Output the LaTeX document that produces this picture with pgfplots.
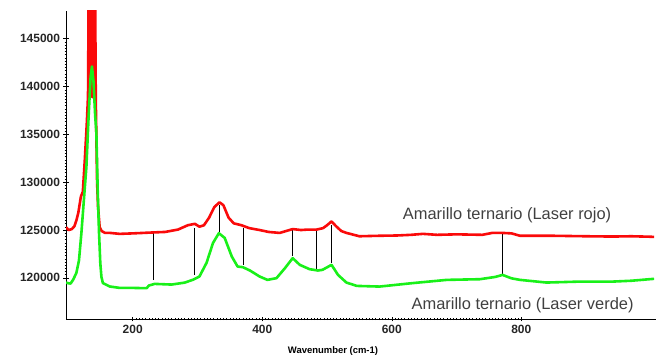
\documentclass[border=0pt]{standalone}
\usepackage{fontspec}
\setmainfont{Liberation Sans}
\usepackage{pgfplots}
\pgfplotsset{compat=1.18}
\definecolor{myred}{RGB}{250,10,10}
\definecolor{mygreen}{RGB}{25,240,25}
\definecolor{txtgray}{RGB}{64,64,64}
\begin{document}
\begin{tikzpicture}
\begin{axis}[
  name=ax, at={(0,0)}, anchor=south west,
  scale only axis, width=590bp, height=308bp,
  xmin=97, xmax=1008, ymin=115700, ymax=147900,
  axis lines=left, axis line style={-, line width=0.6bp, black},
  xtick={200,400,600,800}, ytick={120000,125000,130000,135000,140000,145000},
  minor x tick num=39, minor y tick num=14,
  tick align=center, major tick length=5bp, minor tick length=2.5bp,
  every tick/.style={black, line width=0.5bp},
  every minor tick/.style={black, line width=0.45bp},
  /pgf/number format/assume math mode=true,
  scaled y ticks=false,
  yticklabel style={/pgf/number format/.cd, fixed, set thousands separator={}},
  ticklabel style={font=\bfseries\fontsize{12}{13}\selectfont, text=black!85},
  xlabel={Wavenumber (cm-1)},
  every axis x label/.style={at={(axis description cs:0.4525,0)}, yshift=-32bp, anchor=center, font=\bfseries\fontsize{9.5}{10}\selectfont},
]
% peak marker lines
\addplot[black, line width=0.8bp] coordinates {(232,124800) (232,119800)};
\addplot[black, line width=0.8bp] coordinates {(296,125200) (296,120310)};
\addplot[black, line width=0.8bp] coordinates {(334,127640) (334,124840)};
\addplot[black, line width=0.8bp] coordinates {(371,125200) (371,121360)};
\addplot[black, line width=0.8bp] coordinates {(446,125200) (446,122300)};
\addplot[black, line width=0.8bp] coordinates {(483,125020) (483,120910)};
\addplot[black, line width=0.8bp] coordinates {(507,125540) (507,121600)};
\addplot[black, line width=0.8bp] coordinates {(771,124670) (771,120200)};
% red spectrum
\addplot[myred, line width=2.6bp, line join=round] coordinates {
(97,125300) (101,125000) (106,125100) (110,125400) (113,126000) (116,126800)
(120,128500) (123,129000) (126,132300) (129,136000) (131,139000) (132,150000)
(142,150000) (143,138600) (145,130000) (146.5,127400) (149,125300) (152,124900)
(157,124710) (165,124700) (180,124600) (200,124650)
(232,124750) (250,124800) (270,125050) (285,125500) (296,125650) (303,125350)
(310,125500) (318,126300) (326,127400) (334,127900) (340,127600) (348,126300)
(356,125700) (368,125500) (380,125200) (396,125000) (410,124800) (427,124700)
(447,125100) (460,125000) (470,125050) (484,125050) (494,125200) (500,125500)
(507,125900) (514,125400) (522,124900) (530,124700) (550,124350) (580,124400)
(608,124430) (630,124500) (648,124600) (670,124500) (700,124550) (740,124500)
(755,124700) (771,124700) (785,124650) (798,124400) (850,124400) (900,124350)
(941,124320) (970,124350) (1000,124300) (1005,124280)};
\addplot[draw=none, fill=myred] coordinates {(131,139000) (132,150000) (142,150000) (143,138600)} -- cycle;
% green spectrum
\addplot[mygreen, line width=2.6bp, line join=round] coordinates {
(97,119500) (100,119450) (104,119400) (108,119800) (113,120520) (117,121800)
(120.8,124710) (125,128500) (128.5,131600) (132,137000) (135,141000) (137.1,142100)
(139.5,140500) (142,137000) (143.9,135170) (146,129000) (148,124710) (150,121500)
(151.7,120100) (154,119450) (164.5,119100) (180,118950) (200,118950)
(221.6,118920) (225,119200) (234,119370) (260,119300) (280,119500) (293,119800)
(303,120140) (314,121570) (324,123650) (333,124670) (342,124180) (353,122230)
(362,121180) (370,121120) (381,120770) (396,120140) (408,119790) (422,119970)
(435,121010) (447,122060) (458,121360) (473,120910) (486,120770) (493,120840)
(507,121360) (517,120310) (530,119510) (546,119160) (581,119090) (632,119450)
(685,119790) (736,119860) (760,120100) (771,120310) (785,119950) (798,119790)
(839,119510) (890,119610) (941,119610) (970,119700) (998,119860) (1005,119900)};
\node[text=txtgray, font=\fontsize{16.5}{17}\selectfont] at (axis cs:778,126590) {Amarillo ternario (Laser rojo)};
\node[text=txtgray, font=\fontsize{16.5}{17}\selectfont] at (axis cs:802,117176) {Amarillo ternario (Laser verde)};
\end{axis}
\pgfresetboundingbox
\path[use as bounding box] (-66bp,-38bp) rectangle (592bp,319bp);
\end{tikzpicture}
\end{document}
